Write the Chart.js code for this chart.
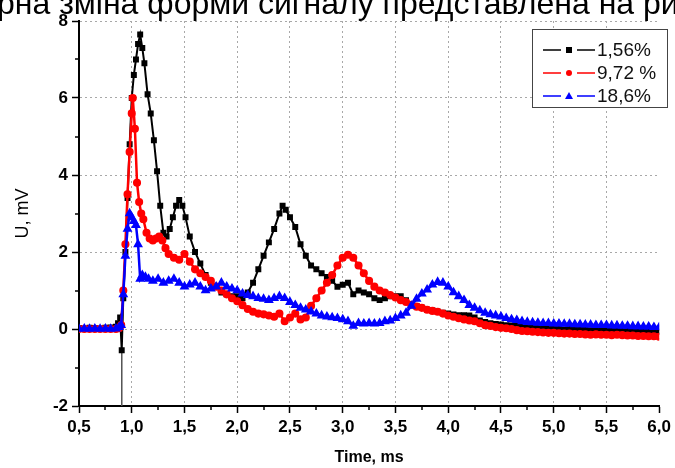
<!DOCTYPE html>
<html>
<head>
<meta charset="utf-8">
<script src="https://cdn.jsdelivr.net/npm/chart.js@4.4.1/dist/chart.umd.min.js"></script>
<style>
  html, body { margin: 0; padding: 0; background: #fff; }
  canvas { display: block; }
</style>
</head>
<body>
<canvas id="signalChart" width="675" height="468"></canvas>
<script>
// values (time in ms, U in mV)
const blackTime = [
  0.50, 0.55, 0.60, 0.65, 0.70, 0.75, 0.80, 0.85, 0.87, 0.89,
  0.905, 0.92, 0.94, 0.96, 0.98, 1.00, 1.02, 1.04, 1.06, 1.08,
  1.10, 1.12, 1.15, 1.18, 1.21, 1.24, 1.27, 1.30, 1.33, 1.36,
  1.39, 1.42, 1.45, 1.48, 1.51, 1.55, 1.60, 1.65, 1.70, 1.75,
  1.80, 1.85, 1.90, 1.95, 2.00, 2.05, 2.10, 2.15, 2.20, 2.25,
  2.30, 2.35, 2.40, 2.43, 2.46, 2.50, 2.55, 2.60, 2.65, 2.70,
  2.75, 2.80, 2.85, 2.90, 2.95, 3.00, 3.05, 3.10, 3.15, 3.20,
  3.25, 3.30, 3.35, 3.40, 3.45, 3.50, 3.55, 3.60, 3.65, 3.70,
  3.75, 3.80, 3.85, 3.90, 3.95, 4.00, 4.05, 4.10, 4.15, 4.20,
  4.25, 4.30, 4.35, 4.40, 4.45, 4.50, 4.55, 4.60, 4.65, 4.70,
  4.75, 4.80, 4.85, 4.90, 4.95, 5.00, 5.05, 5.10, 5.15, 5.20,
  5.25, 5.30, 5.35, 5.40, 5.45, 5.50, 5.55, 5.60, 5.65, 5.70,
  5.75, 5.80, 5.85, 5.90, 5.95, 6.00
];
const blackU = [
  0.02, 0.01, 0.03, 0.02, 0.01, 0.03, 0.04, 0.06, 0.15, 0.30,
  -0.55, 0.8, 2.0, 3.4, 4.8, 6.0, 6.6, 7.0, 7.4, 7.65,
  7.3, 6.9, 6.1, 5.6, 4.9, 4.1, 3.2, 2.5, 2.4, 2.6,
  2.9, 3.2, 3.35, 3.2, 2.9, 2.4, 2.0, 1.7, 1.4, 1.2,
  1.1, 0.95, 0.9, 0.85, 0.85, 0.8, 0.95, 1.2, 1.55, 1.9,
  2.25, 2.6, 3.0, 3.2, 3.1, 2.9, 2.65, 2.2, 1.9, 1.65,
  1.55, 1.45, 1.35, 1.25, 1.1, 1.15, 1.2, 0.9, 1.0, 0.95,
  0.9, 0.8, 0.75, 0.8, 0.85, 0.85, 0.85, 0.75, 0.65, 0.6,
  0.55, 0.5, 0.48, 0.45, 0.42, 0.4, 0.38, 0.36, 0.36, 0.35,
  0.3, 0.22, 0.18, 0.15, 0.13, 0.12, 0.1, 0.09, 0.08, 0.07,
  0.06, 0.05, 0.04, 0.02, 0.0, 0.01, 0.0, -0.01, 0.0, -0.02,
  -0.01, -0.02, -0.03, -0.02, -0.03, -0.04, -0.03, -0.04, -0.05, -0.04,
  -0.05, -0.06, -0.05, -0.06, -0.07, -0.07
];

const redTime = [
  0.50, 0.55, 0.60, 0.65, 0.70, 0.75, 0.80, 0.85, 0.88, 0.90,
  0.92, 0.94, 0.96, 0.98, 1.00, 1.01, 1.03, 1.05, 1.07, 1.09,
  1.11, 1.14, 1.17, 1.20, 1.23, 1.26, 1.29, 1.32, 1.35, 1.40,
  1.45, 1.50, 1.55, 1.60, 1.65, 1.70, 1.75, 1.80, 1.85, 1.90,
  1.95, 2.00, 2.05, 2.10, 2.15, 2.20, 2.25, 2.30, 2.35, 2.40,
  2.45, 2.50, 2.55, 2.60, 2.65, 2.70, 2.75, 2.80, 2.85, 2.90,
  2.95, 3.00, 3.05, 3.10, 3.15, 3.20, 3.25, 3.30, 3.35, 3.40,
  3.45, 3.50, 3.55, 3.60, 3.65, 3.70, 3.75, 3.80, 3.85, 3.90,
  3.95, 4.00, 4.05, 4.10, 4.15, 4.20, 4.25, 4.30, 4.35, 4.40,
  4.45, 4.50, 4.55, 4.60, 4.65, 4.70, 4.75, 4.80, 4.85, 4.90,
  4.95, 5.00, 5.05, 5.10, 5.15, 5.20, 5.25, 5.30, 5.35, 5.40,
  5.45, 5.50, 5.55, 5.60, 5.65, 5.70, 5.75, 5.80, 5.85, 5.90,
  5.95, 6.00
];
const redU = [
  0, 0, 0, 0, 0, 0, 0, 0, 0.02, 0.1,
  1.0, 2.2, 3.5, 4.6, 5.6, 6.0, 5.2, 3.8, 3.3, 3.0,
  2.85, 2.5, 2.35, 2.3, 2.35, 2.4, 2.3, 2.1, 1.95, 1.85,
  1.8, 1.95, 1.75, 1.55, 1.45, 1.35, 1.25, 1.1, 1.0, 0.9,
  0.8, 0.72, 0.62, 0.52, 0.45, 0.4, 0.38, 0.35, 0.32, 0.4,
  0.2, 0.3, 0.4, 0.25, 0.3, 0.6, 0.8, 1.0, 1.2, 1.4,
  1.65, 1.85, 1.93, 1.85, 1.65, 1.45, 1.25, 1.1, 1.0, 0.95,
  0.88, 0.82, 0.75, 0.7, 0.63, 0.58, 0.55, 0.5, 0.47, 0.45,
  0.4, 0.35, 0.32, 0.28, 0.25, 0.22, 0.2, 0.15, 0.1, 0.08,
  0.05, 0.03, 0.02, 0.0, -0.03, -0.05, -0.06, -0.07, -0.08, -0.09,
  -0.1, -0.1, -0.11, -0.12, -0.12, -0.13, -0.13, -0.14, -0.15, -0.14,
  -0.15, -0.15, -0.16, -0.15, -0.16, -0.17, -0.17, -0.18, -0.18, -0.19,
  -0.19, -0.2
];

const blueTime = [
  0.50, 0.55, 0.60, 0.65, 0.70, 0.75, 0.80, 0.85, 0.88, 0.90,
  0.92, 0.94, 0.96, 0.98, 1.00, 1.02, 1.04, 1.06, 1.08, 1.10,
  1.13, 1.16, 1.20, 1.25, 1.30, 1.35, 1.40, 1.45, 1.50, 1.55,
  1.60, 1.65, 1.70, 1.75, 1.80, 1.85, 1.90, 1.95, 2.00, 2.05,
  2.10, 2.15, 2.20, 2.25, 2.30, 2.35, 2.40, 2.45, 2.50, 2.55,
  2.60, 2.65, 2.70, 2.75, 2.80, 2.85, 2.90, 2.95, 3.00, 3.05,
  3.10, 3.15, 3.20, 3.25, 3.30, 3.35, 3.40, 3.45, 3.50, 3.55,
  3.60, 3.65, 3.70, 3.75, 3.80, 3.85, 3.90, 3.95, 4.00, 4.05,
  4.10, 4.15, 4.20, 4.25, 4.30, 4.35, 4.40, 4.45, 4.50, 4.55,
  4.60, 4.65, 4.70, 4.75, 4.80, 4.85, 4.90, 4.95, 5.00, 5.05,
  5.10, 5.15, 5.20, 5.25, 5.30, 5.35, 5.40, 5.45, 5.50, 5.55,
  5.60, 5.65, 5.70, 5.75, 5.80, 5.85, 5.90, 5.95, 6.00
];
const blueU = [
  0, 0.01, 0, 0.01, 0, 0.01, 0, 0.01, 0.05, 0.1,
  0.9, 1.9, 2.6, 3.0, 2.9, 2.8, 2.7, 2.2, 1.3, 1.4,
  1.35, 1.3, 1.25, 1.3, 1.2, 1.25, 1.3, 1.2, 1.1, 1.15,
  1.2, 1.1, 1.0, 1.05, 1.1, 1.2, 1.1, 1.05, 1.0, 0.92,
  0.88, 0.85, 0.8, 0.78, 0.75, 0.8, 0.85, 0.8, 0.7, 0.62,
  0.55, 0.5, 0.45, 0.4, 0.35, 0.32, 0.3, 0.28, 0.25, 0.2,
  0.08, 0.15, 0.14, 0.15, 0.14, 0.15, 0.2, 0.22, 0.28, 0.35,
  0.42, 0.6, 0.78, 0.92, 1.02, 1.15, 1.22, 1.2, 1.1, 0.95,
  0.85, 0.75, 0.62, 0.55, 0.48, 0.42, 0.38, 0.35, 0.32, 0.28,
  0.25, 0.23, 0.2, 0.18, 0.17, 0.16, 0.15, 0.15, 0.14, 0.14,
  0.13, 0.13, 0.12, 0.12, 0.11, 0.11, 0.1, 0.1, 0.1, 0.09,
  0.09, 0.08, 0.08, 0.07, 0.07, 0.06, 0.06, 0.05, 0.05
];

// thin drop line under the black curve at the trigger moment
const dropTime = [0.905, 0.905];
const dropU = [-0.55, -2];

const seriesLabels = ['1,56%', '9,72 %', '18,6%'];
const xTicks = { min: 0.5, max: 6.0, step: 0.5 };
const yTicks = { min: -2, max: 8, step: 2 };

const toPoints = (xs, ys) => xs.map((t, i) => ({ x: t, y: ys[i] }));

const FONT = 'Arial, "Liberation Sans", sans-serif';

// white background, minor ticks, boxed legend and the clipped caption line above
const extras = {
  id: 'extras',
  beforeDraw(chart) {
    const c = chart.ctx;
    c.save();
    c.fillStyle = '#fff';
    c.fillRect(0, 0, chart.width, chart.height);
    c.restore();
  },
  afterDraw(chart) {
    const { ctx, scales: { x, y } } = chart;
    ctx.save();

    // minor ticks half way between major ones
    ctx.strokeStyle = '#000';
    ctx.lineWidth = 1.5;
    const xv = x.ticks.map(t => t.value);
    for (let i = 0; i < xv.length - 1; i++) {
      const px = Math.round(x.getPixelForValue((xv[i] + xv[i + 1]) / 2));
      ctx.beginPath();
      ctx.moveTo(px, y.bottom);
      ctx.lineTo(px, y.bottom + 4);
      ctx.stroke();
    }
    const yv = y.ticks.map(t => t.value);
    for (let i = 0; i < yv.length - 1; i++) {
      const py = Math.round(y.getPixelForValue((yv[i] + yv[i + 1]) / 2));
      ctx.beginPath();
      ctx.moveTo(x.left, py);
      ctx.lineTo(x.left - 4, py);
      ctx.stroke();
    }

    // legend box
    ctx.fillStyle = '#fff';
    ctx.fillRect(532, 29, 135, 78);
    ctx.strokeStyle = '#444';
    ctx.lineWidth = 1;
    ctx.strokeRect(532.5, 29.5, 135, 78);
    const rows = [50, 73, 96];
    chart.data.datasets.slice(0, 3).forEach((ds, i) => {
      const ry = rows[i];
      ctx.strokeStyle = ds.borderColor;
      ctx.lineWidth = 1.5;
      ctx.beginPath();
      ctx.moveTo(543, ry); ctx.lineTo(561, ry);
      ctx.moveTo(577, ry); ctx.lineTo(595, ry);
      ctx.stroke();
      ctx.fillStyle = ds.borderColor;
      ctx.beginPath();
      if (ds.pointStyle === 'rect') {
        ctx.rect(566, ry - 3, 6, 6);
      } else if (ds.pointStyle === 'circle') {
        ctx.arc(569, ry, 3, 0, Math.PI * 2);
      } else {
        ctx.moveTo(569, ry - 4); ctx.lineTo(573, ry + 3); ctx.lineTo(565, ry + 3); ctx.closePath();
      }
      ctx.fill();
      ctx.fillStyle = '#111';
      ctx.font = '19px ' + FONT;
      ctx.textAlign = 'left';
      ctx.textBaseline = 'middle';
      ctx.fillText(ds.label, 597, ry + 1);
    });

    // caption of the page the figure was cut from
    ctx.fillStyle = '#000';
    ctx.font = '32px ' + FONT;
    ctx.textAlign = 'left';
    ctx.textBaseline = 'alphabetic';
    ctx.fillText('рна зміна форми сигналу представлена на рис', -3, 14);
    ctx.restore();
  }
};

const ctx = document.getElementById('signalChart').getContext('2d');
new Chart(ctx, {
  type: 'line',
  data: {
    datasets: [
      {
        label: seriesLabels[0],
        data: toPoints(blackTime, blackU),
        borderColor: '#000000',
        backgroundColor: '#000000',
        pointStyle: 'rect',
        pointRadius: 2.8,
        borderWidth: 2,
        order: 3
      },
      {
        label: seriesLabels[1],
        data: toPoints(redTime, redU),
        borderColor: '#ff0000',
        backgroundColor: '#ff0000',
        pointStyle: 'circle',
        pointRadius: 2.8,
        borderWidth: 2.5,
        order: 2
      },
      {
        label: seriesLabels[2],
        data: toPoints(blueTime, blueU),
        borderColor: '#0000ff',
        backgroundColor: '#0000ff',
        pointStyle: 'triangle',
        pointRadius: 3.2,
        borderWidth: 2.5,
        order: 1
      },
      {
        label: 'drop',
        data: toPoints(dropTime, dropU),
        borderColor: '#555',
        borderWidth: 1,
        pointRadius: 0,
        order: 4
      }
    ]
  },
  options: {
    responsive: false,
    animation: false,
    devicePixelRatio: 1,
    layout: { padding: { top: 21, right: 15, left: 0, bottom: 0 } },
    plugins: {
      legend: { display: false },
      tooltip: { enabled: false }
    },
    elements: { line: { tension: 0 }, point: { borderWidth: 0 } },
    scales: {
      x: {
        type: 'linear',
        min: xTicks.min,
        max: xTicks.max,
        afterFit(scale) { scale.height = 62; },
        ticks: {
          stepSize: xTicks.step,
          autoSkip: false,
          maxRotation: 0,
          padding: 4,
          color: '#000',
          font: { family: FONT, size: 17, weight: 'bold' },
          callback: v => v.toFixed(1).replace('.', ',')
        },
        grid: {
          color: c => (c.tick && c.tick.value === xTicks.max) ? 'rgba(0,0,0,0)' : '#a8a8a8',
          lineWidth: 1,
          tickLength: 7,
          tickWidth: 1.5,
          tickColor: '#000'
        },
        border: { color: '#000', width: 2, dash: [2, 3] },
        title: {
          display: true,
          text: 'Time, ms',
          color: '#000',
          font: { family: FONT, size: 16, weight: 'bold' },
          padding: { top: 0, bottom: 1 }
        }
      },
      y: {
        min: yTicks.min,
        max: yTicks.max,
        afterFit(scale) { scale.width = 79; },
        ticks: {
          stepSize: yTicks.step,
          padding: 4,
          color: '#000',
          font: { family: FONT, size: 17, weight: 'bold' }
        },
        grid: {
          color: '#a8a8a8',
          lineWidth: 1,
          tickLength: 7,
          tickWidth: 1.5,
          tickColor: '#000'
        },
        border: { color: '#000', width: 2, dash: [2, 3] },
        title: {
          display: true,
          text: 'U, mV',
          color: '#000',
          font: { family: FONT, size: 18 },
          padding: { top: 12, bottom: 0 }
        }
      }
    }
  },
  plugins: [extras]
});
</script>
</body>
</html>
